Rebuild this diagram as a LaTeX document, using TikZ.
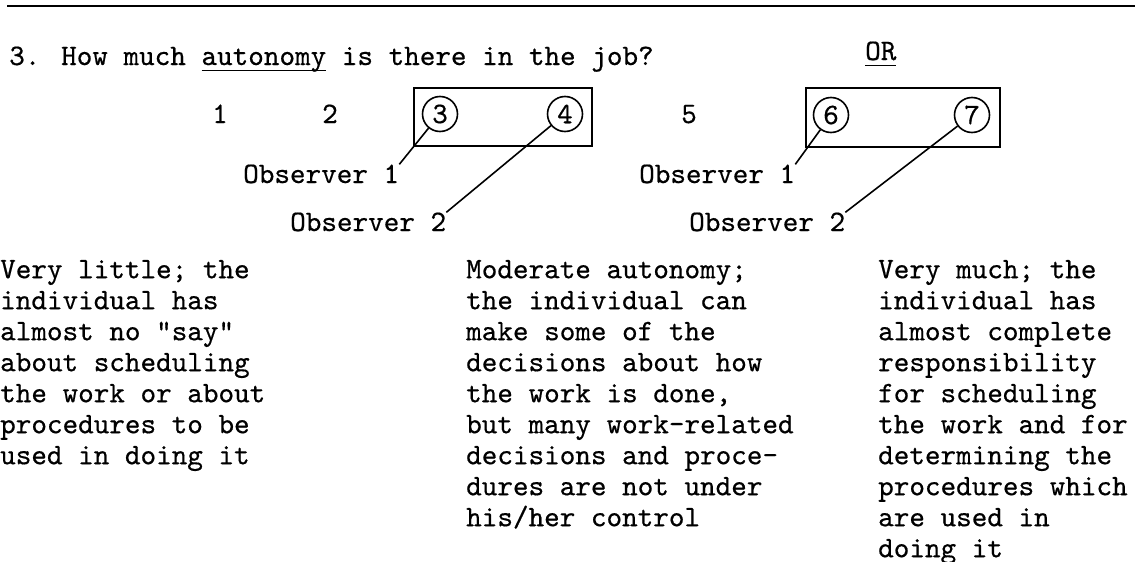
\documentclass[tikz,border=0pt]{standalone}
\usepackage{fontspec}
\newfontfamily\tw{lmmono10-regular.otf}[FakeBold=0.5]
\newcommand{\myul}[1]{\setbox0\hbox{#1}\rlap{\rule[-6pt]{\wd0}{1.5pt}}#1}
\tikzset{
  txt/.style={font=\tw\fontsize{29.7pt}{31pt}\selectfont, inner sep=0pt},
  para/.style={txt, align=left, anchor=north west},
  lbl/.style={txt, anchor=base west},
  num/.style={txt, anchor=base},
  circ/.style={circle, draw, line width=1.6pt, minimum size=35pt, inner sep=0pt, txt},
  rbox/.style={draw, line width=1.6pt, inner sep=0pt},
  lead/.style={line width=1.6pt}
}
\begin{document}
\begin{tikzpicture}[x=1pt,y=-1pt]
\fill[white] (0,0) rectangle (1135,562);
\useasboundingbox (0,0) rectangle (1135,562);
% top rule
\coordinate (r1) at (7,6);
\coordinate (r2) at (1135,6);
\draw[line width=2.5pt] (r1) -- (r2);
% title
\node[lbl] (title) at (9,65) {3. How much \myul{autonomy} is there in the job?};
\node[lbl] (or) at (865,60) {\myul{OR}};
% scale numbers
\node[num] (n1) at (220,123) {1};
\node[num] (n2) at (330,123) {2};
\node[num] (n5) at (689,123) {5};
% boxes
\node[rbox, minimum width=178pt, minimum height=58pt] (box1) at (503,117) {};
\node[rbox, minimum width=194pt, minimum height=59pt] (box2) at (903,117.5) {};
% circled numbers
\node[circ] (c3) at (440,114) {3};
\node[circ] (c4) at (565,114) {4};
\node[circ] (c6) at (831,115) {6};
\node[circ] (c7) at (972,115) {7};
% observer labels
\node[lbl] (o1a) at (243,183) {Observer 1};
\node[lbl] (o2a) at (290,231) {Observer 2};
\node[lbl] (o1b) at (639,183) {Observer 1};
\node[lbl] (o2b) at (689,231) {Observer 2};
% leaders
\draw[lead] (c3) -- (o1a.north east);
\draw[lead] (c4) -- (o2a.north east);
\draw[lead] (c6) -- (o1b.north east);
\draw[lead] (c7) -- (o2b.north east);
% descriptions
\node[para] (dleft) at (0,258) {\rule{0pt}{20pt}Very little; the\\individual has\\almost no "say"\\about scheduling\\the work or about\\procedures to be\\used in doing it};
\node[para] (dmid) at (466,258) {\rule{0pt}{20pt}Moderate autonomy;\\the individual can\\make some of the\\decisions about how\\the work is done,\\but many work-related\\decisions and proce-\\dures are not under\\his/her control};
\node[para] (dright) at (878,258) {\rule{0pt}{20pt}Very much; the\\individual has\\almost complete\\responsibility\\for scheduling\\the work and for\\determining the\\procedures which\\are used in\\doing it};
\end{tikzpicture}
\end{document}
